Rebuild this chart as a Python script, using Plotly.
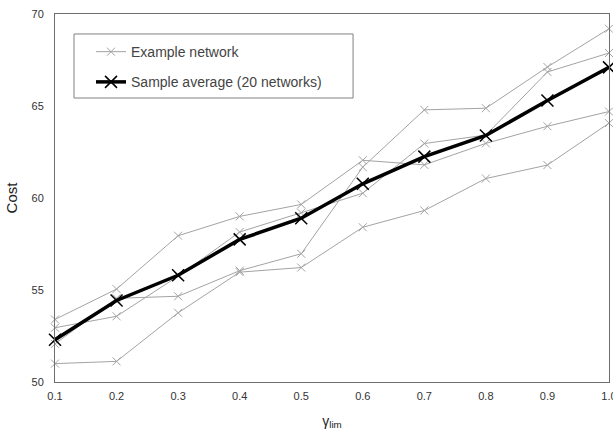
import plotly.graph_objects as go

gamma_lim = [0.1, 0.2, 0.3, 0.4, 0.5, 0.6, 0.7, 0.8, 0.9, 1.0]

network_1 = [53.40, 55.05, 57.95, 59.00, 59.65, 62.05, 61.80, 62.97, 63.90, 64.70]
network_2 = [52.95, 53.57, 55.75, 58.15, 59.20, 60.26, 62.96, 63.42, 66.85, 67.88]
network_3 = [52.07, 54.55, 54.66, 56.05, 56.97, 61.68, 64.79, 64.88, 67.12, 69.20]
network_4 = [51.00, 51.12, 53.76, 55.97, 56.22, 58.41, 59.32, 61.06, 61.79, 64.07]
sample_average = [52.30, 54.43, 55.80, 57.75, 58.90, 60.77, 62.25, 63.40, 65.30, 67.10]

y_ticks = [50, 55, 60, 65, 70]
x_ticks = gamma_lim
x_tick_labels = ["0.1", "0.2", "0.3", "0.4", "0.5", "0.6", "0.7", "0.8", "0.9", "1.0"]

font_family = "Liberation Sans, Arial, sans-serif"
gray = "#a3a3a3"

fig = go.Figure()

for i, series in enumerate([network_1, network_2, network_3, network_4]):
    fig.add_trace(go.Scatter(
        x=gamma_lim, y=series, mode="lines+markers",
        name="Example network",
        legendgroup="a",
        showlegend=(i == 0),
        line=dict(color=gray, width=1),
        marker=dict(symbol="x-thin", size=8, line=dict(color=gray, width=1)),
        cliponaxis=False,
    ))

fig.add_trace(go.Scatter(
    x=gamma_lim, y=sample_average, mode="lines+markers",
    name="Sample average (20 networks)",
    legendgroup="b",
    line=dict(color="black", width=3.5),
    marker=dict(symbol="x-thin", size=12, line=dict(color="black", width=1.5)),
    cliponaxis=False,
))

# legend frame
fig.add_shape(
    type="rect", xref="paper", yref="paper",
    x0=0.0343, x1=0.538, y0=0.7717, y1=0.9457,
    line=dict(color="#808080", width=1), fillcolor="white", layer="below",
)

fig.update_layout(
    width=613, height=431,
    margin=dict(l=55, r=4, t=14, b=49, autoexpand=False),
    paper_bgcolor="white", plot_bgcolor="white",
    font=dict(family=font_family, color="#222222", size=11),
    legend=dict(
        x=0.065, y=0.940, xanchor="left", yanchor="top",
        borderwidth=0,
        font=dict(size=14, color="#444444", family=font_family),
        traceorder="grouped", tracegroupgap=9,
        itemwidth=30,
        bgcolor="rgba(0,0,0,0)",
    ),
    xaxis=dict(
        range=[0.1, 1.0], tickvals=x_ticks, ticktext=x_tick_labels,
        automargin=False,
        showgrid=False, zeroline=False,
        showline=True, linecolor="#6e6e6e", linewidth=1, mirror=True,
        ticks="outside", ticklen=4, tickcolor="rgba(0,0,0,0)",
        ticklabeloverflow="allow",
        tickfont=dict(size=11, color="#333333"),
        title=dict(text="γ<sub>lim</sub>", font=dict(size=14, color="#222222"), standoff=14),
    ),
    yaxis=dict(
        range=[50, 70], tickvals=y_ticks,
        automargin=False,
        showgrid=False, zeroline=False,
        showline=True, linecolor="#6e6e6e", linewidth=1, mirror=True,
        ticks="outside", ticklen=8, tickcolor="rgba(0,0,0,0)",
        ticklabeloverflow="allow",
        tickfont=dict(size=11, color="#333333"),
        title=dict(text="Cost", font=dict(size=15, color="#222222"), standoff=10),
    ),
)

fig.write_html(
    "out.html",
    config={"displayModeBar": False},
    post_script="document.body.style.margin='0';document.body.style.overflow='hidden';",
)
